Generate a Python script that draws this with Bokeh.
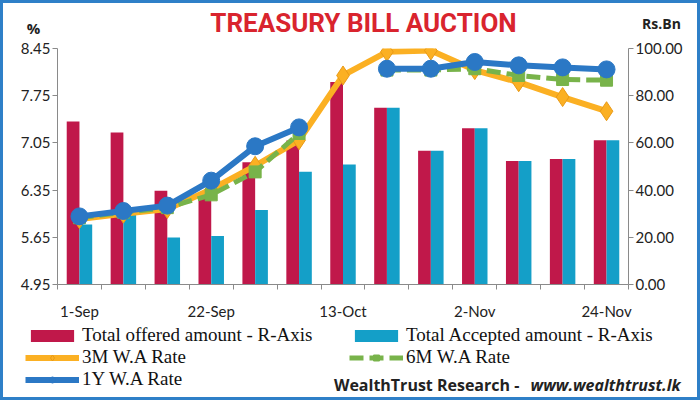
import numpy as np
from bokeh.plotting import figure
from bokeh.layouts import column
from bokeh.models import (ColumnDataSource, Range1d, LinearAxis, FixedTicker,
                          NumeralTickFormatter, Legend, LegendItem, Label)
from bokeh.transform import dodge
from bokeh.embed import file_html
from bokeh.resources import INLINE

# ---------------- data ----------------
dates = ["1-Sep", "8-Sep", "15-Sep", "22-Sep", "29-Sep", "6-Oct", "13-Oct",
         "20-Oct", "27-Oct", "2-Nov", "10-Nov", "17-Nov", "24-Nov"]
offered = [69.1, 64.4, 39.7, 37.6, 51.8, 61.0, 85.8, 74.9, 56.7, 66.2, 52.3, 53.2, 61.1]
accepted = [25.4, 30.0, 19.9, 20.6, 31.6, 47.8, 50.8, 74.9, 56.7, 66.2, 52.3, 53.2, 61.1]
rate_3m = [5.92, 6.00, 6.07, 6.36, 6.71, 7.09, 8.05, 8.40, 8.42, 8.13, 7.95, 7.73, 7.52]
rate_6m = [5.94, 6.02, 6.09, 6.28, 6.62, 7.19, np.nan, 8.13, 8.13, 8.15, 8.05, 7.99, 7.98]
rate_1y = [5.96, 6.04, 6.12, 6.49, 7.00, 7.28, np.nan, 8.15, 8.15, 8.25, 8.20, 8.17, 8.14]
left_ticks = [4.95, 5.65, 6.35, 7.05, 7.75, 8.45]
right_ticks = [0, 20, 40, 60, 80, 100]
label_every = 3

idx = list(range(len(dates)))
src = ColumnDataSource(dict(x=idx, offered=offered, accepted=accepted,
                            r3=rate_3m, r6=rate_6m, r1=rate_1y))

C_OFF = "#c0184a"
C_ACC = "#149fc8"
C_3M = "#fbb023"
C_3M_EDGE = "#e99a17"
C_6M = "#78b34a"
C_1Y = "#2b78c5"
AX = "#8a8a8a"
TXT = "#222222"
TICK_FONT = "Lato"
W = 694

def strip(height, xr):
    f = figure(width=W, height=height, output_backend="svg", toolbar_location=None,
               title=None, x_axis_type=None, y_axis_type=None,
               x_range=xr, y_range=Range1d(0, 1),
               min_border=0, min_border_left=0, min_border_right=0,
               min_border_top=0, min_border_bottom=0, frame_align=False)
    f.outline_line_color = None
    f.grid.visible = False
    f.background_fill_color = "white"
    f.border_fill_color = "white"
    return f

# ---------------- top strip: title and axis units ----------------
top = strip(35, Range1d(0, 1))
top.add_layout(Label(x=360, y=1, x_units="screen", y_units="screen",
                     text="TREASURY BILL AUCTION", text_align="center",
                     text_baseline="bottom", text_color="#d9242e",
                     text_font="Roboto", text_font_style="bold", text_font_size="26px"))
top.add_layout(Label(x=30, y=11, x_units="screen", y_units="screen", text="%",
                     text_align="center", text_baseline="alphabetic",
                     text_font="Open Sans", text_font_style="bold",
                     text_font_size="15px", text_color=TXT))
top.add_layout(Label(x=658, y=15, x_units="screen", y_units="screen", text="Rs.Bn",
                     text_align="center", text_baseline="alphabetic",
                     text_font="Open Sans", text_font_style="bold",
                     text_font_size="14px", text_color=TXT))

# ---------------- main chart ----------------
p = figure(width=W, height=284, output_backend="svg", toolbar_location=None, title=None,
           x_range=Range1d(-0.5, len(dates) - 0.5),
           y_range=Range1d(left_ticks[0], left_ticks[-1]),
           min_border_left=54, min_border_right=69, min_border_top=10, min_border_bottom=37,
           frame_align=False)
p.outline_line_color = None
p.xgrid.visible = False
p.ygrid.visible = False
p.background_fill_color = "white"
p.border_fill_color = "white"
p.extra_y_ranges = {"amt": Range1d(right_ticks[0], right_ticks[-1])}

bw = 0.29
p.vbar(x=dodge("x", -bw / 2), top="offered", width=bw, source=src, y_range_name="amt",
       fill_color=C_OFF, line_color=None)
p.vbar(x=dodge("x", bw / 2), top="accepted", width=bw, source=src, y_range_name="amt",
       fill_color=C_ACC, line_color=None)

p.line("x", "r3", source=src, line_color=C_3M, line_width=6)
p.scatter("x", "r3", source=src, marker="diamond", size=19,
          fill_color=C_3M, line_color=C_3M_EDGE, line_width=1)
p.line("x", "r6", source=src, line_color=C_6M, line_width=5, line_dash="14 6")
p.scatter("x", "r6", source=src, marker="square", size=12, fill_color=C_6M, line_color=C_6M)
p.line("x", "r1", source=src, line_color=C_1Y, line_width=6)
p.scatter("x", "r1", source=src, marker="circle", size=17, fill_color=C_1Y, line_color=C_1Y)

xa = p.xaxis[0]
xa.ticker = FixedTicker(ticks=idx[::label_every],
                        minor_ticks=[i - 0.5 for i in range(len(dates) + 1)])
xa.major_label_overrides = {i: dates[i] for i in idx[::label_every]}
xa.major_tick_out = 0
xa.major_tick_in = 0
xa.minor_tick_out = 5
xa.minor_tick_in = 0
xa.minor_tick_line_color = AX
xa.axis_line_color = AX
xa.major_label_standoff = 12
xa.major_label_text_font = TICK_FONT
xa.major_label_text_font_size = "15px"
xa.major_label_text_color = TXT

def style_y(ax):
    ax.major_tick_out = 5
    ax.major_tick_in = 0
    ax.minor_tick_out = 0
    ax.minor_tick_in = 0
    ax.axis_line_color = AX
    ax.major_tick_line_color = AX
    ax.major_label_standoff = 2
    ax.major_label_text_font = TICK_FONT
    ax.major_label_text_font_size = "15px"
    ax.major_label_text_color = TXT

ya = p.yaxis[0]
ya.ticker = FixedTicker(ticks=left_ticks)
ya.formatter = NumeralTickFormatter(format="0.00")
style_y(ya)

ra = LinearAxis(y_range_name="amt", ticker=FixedTicker(ticks=right_ticks),
                formatter=NumeralTickFormatter(format="0.00"))
style_y(ra)
p.add_layout(ra, "right")

# ---------------- bottom strip: legend and source ----------------
# legend renderers share the data but sit outside this strip's visible range
bot = strip(75, Range1d(-100, -99))
g_off = bot.vbar(x="x", top="offered", width=bw, source=src, fill_color=C_OFF, line_color=None)
g_acc = bot.vbar(x="x", top="accepted", width=bw, source=src, fill_color=C_ACC, line_color=None)
g3l = bot.line("x", "r3", source=src, line_color=C_3M, line_width=6)
g3m = bot.scatter("x", "r3", source=src, marker="diamond", size=19, fill_color=C_3M,
                  line_color=C_3M_EDGE, line_width=1)
g6l = bot.line("x", "r6", source=src, line_color=C_6M, line_width=5, line_dash="14 6")
g6m = bot.scatter("x", "r6", source=src, marker="square", size=12, fill_color=C_6M, line_color=C_6M)
g1l = bot.line("x", "r1", source=src, line_color=C_1Y, line_width=6)
g1m = bot.scatter("x", "r1", source=src, marker="circle", size=17, fill_color=C_1Y, line_color=C_1Y)

def style_legend(lg):
    lg.label_text_font = "Liberation Serif"
    lg.label_text_font_size = "19px"
    lg.label_text_color = "#111111"
    lg.label_height = 22
    lg.glyph_height = 15
    lg.glyph_width = 54
    lg.label_standoff = 3
    lg.spacing = 0
    lg.padding = 0
    lg.margin = 0
    lg.border_line_color = None
    lg.background_fill_alpha = 0

leg1 = Legend(items=[LegendItem(label="Total offered amount - R-Axis", renderers=[g_off]),
                     LegendItem(label="3M W.A Rate", renderers=[g3l, g3m]),
                     LegendItem(label="1Y W.A Rate", renderers=[g1l, g1m])],
              location=(22, 7))
leg2 = Legend(items=[LegendItem(label="Total Accepted amount - R-Axis", renderers=[g_acc]),
                     LegendItem(label="6M W.A Rate", renderers=[g6l, g6m])],
              location=(346, 29))
style_legend(leg1)
style_legend(leg2)
bot.add_layout(leg1, "center")
bot.add_layout(leg2, "center")

bot.add_layout(Label(x=677, y=2, x_units="screen", y_units="screen",
                     text="www.wealthtrust.lk", text_align="right",
                     text_baseline="bottom", text_font="Open Sans",
                     text_font_style="bold italic", text_font_size="16px", text_color=TXT))
bot.add_layout(Label(x=520, y=2, x_units="screen", y_units="screen",
                     text="WealthTrust Research - ", text_align="right",
                     text_baseline="bottom", text_font="Open Sans",
                     text_font_style="bold", text_font_size="16px", text_color=TXT))

page = column(top, p, bot, spacing=0,
              styles={"border": "3px solid #2f80c8", "background": "white"})

open("out.html", "w").write(file_html(page, INLINE))
